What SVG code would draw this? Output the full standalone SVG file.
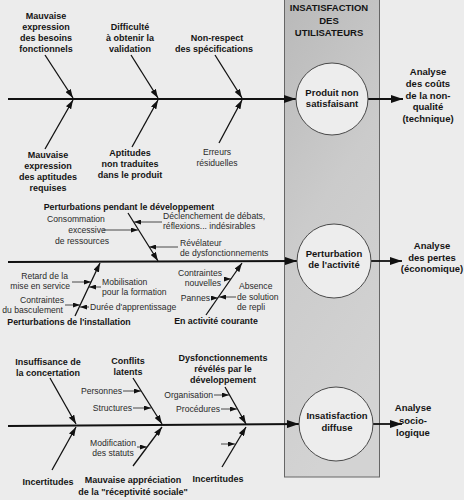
<svg xmlns="http://www.w3.org/2000/svg" width="464" height="500" viewBox="0 0 464 500">
<defs>
<linearGradient id="boxg" x1="0" y1="0" x2="0.3" y2="1">
<stop offset="0" stop-color="#b9b9b9"/>
<stop offset="0.5" stop-color="#cbcbcb"/>
<stop offset="1" stop-color="#d3d3d3"/>
</linearGradient>
<marker id="big" viewBox="0 0 12 8" markerWidth="12" markerHeight="8" refX="12" refY="4" orient="auto" markerUnits="userSpaceOnUse"><path d="M0,0 L12,4 L0,8 z" fill="#111"/></marker>
<marker id="mid" viewBox="0 0 9 6" markerWidth="9" markerHeight="6" refX="9" refY="3" orient="auto" markerUnits="userSpaceOnUse"><path d="M0,0 L9,3 L0,6 z" fill="#111"/></marker>
<marker id="sm" viewBox="0 0 7 5" markerWidth="7" markerHeight="5" refX="7" refY="2.5" orient="auto" markerUnits="userSpaceOnUse"><path d="M0,0 L7,2.5 L0,5 z" fill="#111"/></marker>
</defs>
<style>
text{font-family:"Liberation Sans",Arial,sans-serif;fill:#141414}
.b{font-size:9px;font-weight:bold;text-anchor:middle}
.bl{font-size:8.8px;font-weight:bold}
.r{font-size:8.6px;fill:#2a2a2a}
.h{font-size:9.5px;font-weight:bold;text-anchor:middle}
.spine{stroke:#111;stroke-width:1.8;fill:none;marker-end:url(#big)}
.bone{stroke:#111;stroke-width:1.3;fill:none;marker-end:url(#mid)}
.sub{stroke:#222;stroke-width:0.8;fill:none;marker-end:url(#sm)}
.circ{fill:#ededed;stroke:#4a4a4a;stroke-width:1}
</style>
<rect x="0" y="0" width="464" height="500" fill="#ececec"/>

<g id="box">
<rect x="284.5" y="-2" width="95" height="479" fill="url(#boxg)" stroke="#666" stroke-width="1"/>
<text class="h" x="329" y="11">INSATISFACTION</text>
<text class="h" x="329" y="24">DES</text>
<text class="h" x="329" y="36">UTILISATEURS</text>
</g>

<g id="connectors">
<!-- section 1 -->
<line class="spine" x1="8" y1="99" x2="296" y2="99"/>
<line class="spine" x1="368" y1="99" x2="403" y2="99"/>
<line class="bone" x1="45" y1="55" x2="73" y2="98"/>
<line class="bone" x1="131" y1="55" x2="158" y2="98"/>
<line class="bone" x1="215" y1="55" x2="242" y2="98"/>
<line class="bone" x1="45" y1="149" x2="73" y2="100"/>
<line class="bone" x1="132" y1="147" x2="158" y2="100"/>
<line class="bone" x1="219" y1="143" x2="242" y2="100"/>
<!-- section 2 -->
<line class="spine" x1="8" y1="262" x2="297" y2="261"/>
<line class="spine" x1="371" y1="261" x2="402" y2="261"/>
<line class="bone" x1="128" y1="213" x2="158" y2="261"/>
<line class="bone" x1="75" y1="316" x2="100" y2="263"/>
<line class="bone" x1="206" y1="315" x2="242" y2="263"/>
<line class="sub" x1="103" y1="230" x2="138" y2="230"/>
<line class="sub" x1="162" y1="222" x2="134" y2="222"/>
<line class="sub" x1="178" y1="247" x2="149" y2="247"/>
<line class="sub" x1="72" y1="282" x2="91" y2="282"/>
<line class="sub" x1="101" y1="287" x2="89" y2="287"/>
<line class="sub" x1="65" y1="305" x2="80" y2="305"/>
<line class="sub" x1="89" y1="307" x2="80" y2="307"/>
<line class="sub" x1="224" y1="279" x2="231" y2="279"/>
<line class="sub" x1="211" y1="298" x2="218" y2="298"/>
<line class="sub" x1="236" y1="297" x2="219" y2="297"/>
<!-- section 3 -->
<line class="spine" x1="8" y1="426" x2="299" y2="424"/>
<line class="spine" x1="373" y1="424" x2="402" y2="424"/>
<line class="bone" x1="50" y1="378" x2="76" y2="424"/>
<line class="bone" x1="133" y1="378" x2="162" y2="424"/>
<line class="bone" x1="225" y1="387" x2="246" y2="424"/>
<line class="bone" x1="52" y1="470" x2="76" y2="427"/>
<line class="bone" x1="133" y1="466" x2="162" y2="427"/>
<line class="bone" x1="222" y1="467" x2="246" y2="427"/>
<line class="sub" x1="123" y1="391" x2="141" y2="391"/>
<line class="sub" x1="133" y1="408" x2="151" y2="408"/>
<line class="sub" x1="214" y1="395" x2="229" y2="395"/>
<line class="sub" x1="221" y1="409" x2="237" y2="409"/>
<line class="sub" x1="137" y1="447" x2="147" y2="447"/>
<line class="sub" x1="221" y1="444" x2="235" y2="444"/>
</g>

<g id="produit">
<circle class="circ" cx="332" cy="99" r="36"/>
<text class="h" x="332" y="95.5">Produit non</text>
<text class="h" x="332" y="107">satisfaisant</text>
</g>
<g id="perturbation">
<circle class="circ" cx="334" cy="261" r="37"/>
<text class="h" x="334" y="256.5">Perturbation</text>
<text class="h" x="334" y="268">de l'activité</text>
</g>
<g id="insatisfaction">
<circle class="circ" cx="336" cy="424" r="37"/>
<text class="h" x="337" y="418.5">Insatisfaction</text>
<text class="h" x="337" y="430.5">diffuse</text>
</g>

<g id="analyse1">
<text class="h" x="428" y="75">Analyse</text>
<text class="h" x="428" y="87">des coûts</text>
<text class="h" x="428" y="98.5">de la non-</text>
<text class="h" x="428" y="110">qualité</text>
<text class="h" x="428" y="121.5">(technique)</text>
</g>
<g id="analyse2">
<text class="h" x="432" y="249">Analyse</text>
<text class="h" x="432" y="260.5">des pertes</text>
<text class="h" x="432" y="272">(économique)</text>
</g>
<g id="analyse3">
<text class="h" x="413" y="410.5">Analyse</text>
<text class="h" x="413" y="423.5">socio-</text>
<text class="h" x="413" y="435.5">logique</text>
</g>

<g id="s1-labels">
<text class="b" x="46" y="19">Mauvaise</text>
<text class="b" x="46" y="30">expression</text>
<text class="b" x="46" y="41">des besoins</text>
<text class="b" x="46" y="52">fonctionnels</text>
<text class="b" x="130" y="30">Difficulté</text>
<text class="b" x="130" y="41">à obtenir la</text>
<text class="b" x="130" y="52">validation</text>
<text class="b" x="217" y="41">Non-respect</text>
<text class="b" x="214" y="52">des spécifications</text>
<text class="b" x="48" y="158">Mauvaise</text>
<text class="b" x="48" y="169">expression</text>
<text class="b" x="48" y="180">des aptitudes</text>
<text class="b" x="48" y="191">requises</text>
<text class="b" x="130" y="156">Aptitudes</text>
<text class="b" x="130" y="167">non traduites</text>
<text class="b" x="130" y="178">dans le produit</text>
<text class="r" x="217" y="155" text-anchor="middle">Erreurs</text>
<text class="r" x="217" y="166" text-anchor="middle">résiduelles</text>
</g>

<g id="s2-labels">
<text class="bl" x="129" y="210" text-anchor="middle">Perturbations pendant le développement</text>
<text class="r" x="76" y="222" text-anchor="middle">Consommation</text>
<text class="r" x="87" y="233" text-anchor="middle">excessive</text>
<text class="r" x="82" y="244" text-anchor="middle">de ressources</text>
<text class="r" x="163" y="219">Déclenchement de débats,</text>
<text class="r" x="163" y="228.5">réflexions... indésirables</text>
<text class="r" x="180" y="246">Révélateur</text>
<text class="r" x="180" y="255.5">de dysfonctionnements</text>
<text class="r" x="68" y="279" text-anchor="end">Retard de la</text>
<text class="r" x="70" y="289" text-anchor="end">mise en service</text>
<text class="r" x="102" y="285">Mobilisation</text>
<text class="r" x="102" y="295">pour la formation</text>
<text class="r" x="64" y="303" text-anchor="end">Contraintes</text>
<text class="r" x="63" y="313" text-anchor="end">du basculement</text>
<text class="r" x="90" y="310">Durée d'apprentissage</text>
<text class="bl" x="69" y="325" text-anchor="middle">Perturbations de l'installation</text>
<text class="r" x="222" y="276" text-anchor="end">Contraintes</text>
<text class="r" x="221" y="286" text-anchor="end">nouvelles</text>
<text class="r" x="210" y="301" text-anchor="end">Pannes</text>
<text class="r" x="239" y="289">Absence</text>
<text class="r" x="237" y="299.5">de solution</text>
<text class="r" x="237" y="309.5">de repli</text>
<text class="bl" x="216" y="324" text-anchor="middle">En activité courante</text>
</g>

<g id="s3-labels">
<text class="b" x="48" y="365">Insuffisance de</text>
<text class="b" x="48" y="376">la concertation</text>
<text class="b" x="128" y="364">Conflits</text>
<text class="b" x="128" y="375">latents</text>
<text class="r" x="122" y="394" text-anchor="end">Personnes</text>
<text class="r" x="132" y="411" text-anchor="end">Structures</text>
<text class="b" x="223" y="361">Dysfonctionnements</text>
<text class="b" x="223" y="372">révélés par le</text>
<text class="b" x="223" y="383">développement</text>
<text class="r" x="213" y="398" text-anchor="end">Organisation</text>
<text class="r" x="220" y="412" text-anchor="end">Procédures</text>
<text class="r" x="113" y="446" text-anchor="middle">Modification</text>
<text class="r" x="113" y="456" text-anchor="middle">des statuts</text>
<text class="b" x="48" y="485">Incertitudes</text>
<text class="b" x="133" y="483">Mauvaise appréciation</text>
<text class="b" x="133" y="495">de la "réceptivité sociale"</text>
<text class="b" x="218" y="482">Incertitudes</text>
</g>
</svg>
